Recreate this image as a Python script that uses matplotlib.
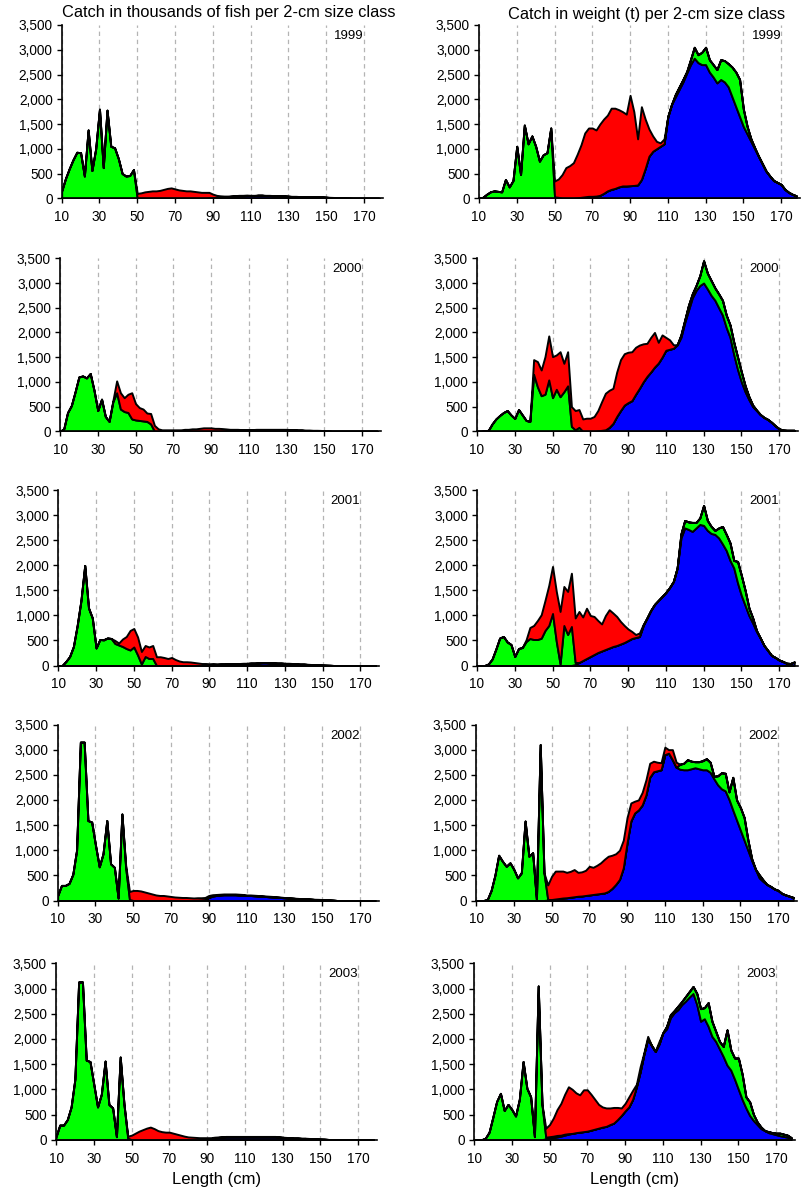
import numpy as np
import matplotlib
matplotlib.use("Agg")
import matplotlib.pyplot as plt
from matplotlib.ticker import FuncFormatter

plt.rcParams['font.family'] = ['Liberation Sans', 'DejaVu Sans']

#=============================
# 2-cm length classes 10..178
#=============================
lengths = np.arange(10, 180, 2)
years = ["1999", "2000", "2001", "2002", "2003"]
Z = [0] * 10

# ---------- catch in numbers (thousands) ----------
# 1999
cnt99_B = (Z + Z + Z + [0, 0, 0, 0, 0, 0, 0, 0, 0, 10]
           + [15, 20, 25, 30, 35, 40, 45, 50, 50, 55]
           + [55, 55, 60, 60, 55, 55, 50, 50, 45, 45]
           + [40, 35, 35, 30, 30, 30, 30, 30, 25, 25]
           + [20, 15, 12, 10, 8, 5, 3, 0, 0, 0] + [0, 0, 0, 0, 0])
cnt99_G = ([150, 400, 600, 780, 930, 920, 450, 1380, 560, 1000]
           + [1800, 620, 1780, 1050, 1020, 800, 500, 450, 460, 580]
           + Z + Z + Z + Z + Z + Z + [0, 0, 0, 0, 0])
cnt99_R = (Z + Z + [100, 110, 130, 140, 150, 150, 160, 180, 200, 210]
           + [190, 170, 160, 150, 150, 140, 130, 120, 120, 110]
           + [70, 40, 25, 15, 10, 10, 10, 10, 10, 10]
           + [5] * 10 + [5] * 10
           + [5, 5, 5, 5, 0, 0, 0, 0, 0, 0] + [0, 0, 0, 0, 0])
# 2000
cnt00_B = (Z + Z + Z + Z + [0, 0, 0, 5, 8, 10, 15, 20, 20, 25]
           + [25, 25, 30, 30, 30, 30, 30, 30, 30, 30]
           + [30, 25, 25, 20, 20, 15, 15, 10, 10, 8]
           + [5, 3, 0, 0, 0, 0, 0, 0, 0, 0] + [0, 0, 0, 0, 0])
cnt00_G = ([0, 50, 380, 520, 800, 1100, 1120, 1080, 1170, 830]
           + [420, 650, 300, 200, 600, 780, 450, 400, 380, 250]
           + [230, 220, 210, 200, 150, 0, 0, 0, 0, 0]
           + Z + Z + Z + Z + Z + [0, 0, 0, 0, 0])
cnt00_R = (Z + [0, 0, 0, 0, 20, 240, 330, 280, 370, 530]
           + [330, 260, 240, 170, 210, 120, 50, 30, 30, 30]
           + [30, 30, 30, 40, 40, 50, 50, 60, 70, 70]
           + [70, 60, 60, 50, 40, 30, 25, 20, 15, 10]
           + [10] * 10 + [10] * 10
           + [5, 5, 0, 0, 0, 0, 0, 0, 0, 0] + [0, 0, 0, 0, 0])
# 2001
cnt01_B = (Z + Z + Z + [0, 0, 0, 0, 0, 0, 0, 0, 0, 10]
           + [15, 20, 20, 25, 25, 30, 30, 35, 35, 40]
           + [40, 45, 45, 50, 55, 55, 50, 50, 45, 45]
           + [40, 40, 35, 30, 25, 25, 20, 15, 12, 10]
           + [8, 5, 3, 0, 0, 0, 0, 0, 0, 0] + [0, 0, 0, 0, 0])
cnt01_G = ([0, 0, 80, 180, 380, 800, 1300, 2000, 1150, 950]
           + [350, 520, 510, 550, 540, 440, 410, 380, 340, 310]
           + [370, 210, 30, 180, 140, 140, 0, 0, 0, 0]
           + Z + Z + Z + Z + Z + [0, 0, 0, 0, 0])
cnt01_R = (Z + [0, 0, 10, 0, 0, 60, 40, 150, 240, 390]
           + [370, 360, 250, 220, 230, 260, 175, 175, 160, 140]
           + [160, 120, 90, 75, 75, 70, 60, 50, 40, 30]
           + [20, 20, 15, 10, 10, 10, 5, 5, 5, 5]
           + [5] * 10 + [5] * 10 + Z + [0, 0, 0, 0, 0])
# 2002
cnt02_B = (Z + Z + Z + [0, 0, 0, 0, 0, 0, 0, 5, 10, 20]
           + [60, 90, 100, 110, 115, 115, 115, 115, 110, 105]
           + [100, 100, 95, 90, 85, 80, 75, 70, 65, 60]
           + [55, 50, 45, 40, 35, 30, 30, 25, 20, 18]
           + [15, 10, 8, 5, 0, 0, 0, 0, 0, 0] + [0, 0, 0, 0, 0])
cnt02_G = ([100, 300, 300, 340, 520, 1000, 3150, 3150, 1590, 1560]
           + [1100, 670, 930, 1590, 730, 660, 50, 1720, 650, 20]
           + Z + Z + Z + Z + Z + Z + [0, 0, 0, 0, 0])
cnt02_R = (Z + [0, 0, 0, 0, 0, 0, 0, 0, 50, 160]
           + [200, 200, 190, 170, 150, 130, 110, 100, 100, 90]
           + [80, 70, 65, 60, 60, 55, 50, 50, 45, 40]
           + [40, 25, 20, 15, 15, 15, 15, 15, 15, 15]
           + [10, 10, 10, 10, 10, 10, 10, 10, 8, 8]
           + [5] * 10 + [5, 5, 5, 0, 0, 0, 0, 0, 0, 0] + [0, 0, 0, 0, 0])
# 2003
cnt03_B = (Z + Z + Z + [0, 0, 0, 0, 0, 0, 0, 0, 0, 5]
           + [10, 20, 35, 45, 50, 55, 55, 55, 55, 55]
           + [55, 55, 55, 55, 55, 55, 55, 55, 55, 50]
           + [45, 40, 35, 30, 30, 25, 25, 20, 15, 12]
           + [10, 8, 5, 3, 0, 0, 0, 0, 0, 0] + [0, 0, 0, 0, 0])
cnt03_G = ([60, 290, 290, 400, 650, 1200, 3130, 3130, 1580, 1550]
           + [1100, 650, 900, 1560, 700, 630, 60, 1640, 700, 30]
           + Z + Z + Z + Z + Z + Z + [0, 0, 0, 0, 0])
cnt03_R = (Z + [0, 0, 0, 0, 0, 0, 0, 0, 0, 40]
           + [90, 130, 170, 200, 230, 250, 220, 180, 160, 150]
           + [150, 130, 110, 90, 70, 55, 50, 45, 40, 35]
           + [30, 20, 15, 10, 10, 10, 10, 10, 10, 10]
           + [10] * 10 + [5] * 10
           + [5, 5, 0, 0, 0, 0, 0, 0, 0, 0] + [0, 0, 0, 0, 0])

# ---------- catch in weight (t) ----------
# 1999
wt99_B = (Z + Z + [0, 0, 0, 0, 0, 0, 10, 20, 30, 40]
          + [40, 45, 60, 100, 150, 180, 200, 230, 250, 250]
          + [255, 260, 270, 380, 600, 850, 950, 1000, 1050, 1100]
          + [1650, 1900, 2050, 2200, 2350, 2530, 2700, 2830, 2740, 2700]
          + [2700, 2550, 2450, 2330, 2400, 2350, 2250, 2050, 1850, 1650]
          + [1450, 1300, 1150, 1000, 850, 700, 550, 450, 360, 320]
          + [280, 180, 120, 80, 50])
wt99_G = ([0, 20, 80, 130, 150, 140, 130, 380, 230, 360]
          + [1050, 480, 1480, 1100, 1260, 1050, 750, 880, 920, 1420]
          + [30, 20, 0, 0, 0, 0, 0, 0, 0, 0] + Z + Z
          + [0, 0, 50, 50, 50, 30, 100, 220, 160, 250]
          + [350, 250, 250, 270, 400, 430, 470, 600, 700, 750]
          + [350, 150, 50, 20, 0, 0, 0, 0, 0, 0] + [0, 0, 0, 0, 0])
wt99_R = (Z + Z + [320, 370, 480, 620, 660, 720, 880, 1060, 1290, 1380]
          + [1380, 1335, 1440, 1500, 1530, 1640, 1620, 1560, 1500, 1450]
          + [1825, 1490, 930, 1470, 1000, 550, 310, 150, 70, 100]
          + Z + Z + Z + [0, 0, 0, 0, 0])
# 2000
wt00_B = (Z + Z + Z + [0, 0, 10, 20, 30, 80, 160, 300, 420, 530]
          + [580, 620, 750, 870, 1000, 1110, 1200, 1300, 1380, 1500]
          + [1640, 1660, 1680, 1750, 1900, 2200, 2450, 2700, 2850, 2950]
          + [3000, 2880, 2750, 2650, 2500, 2350, 2100, 1900, 1550, 1250]
          + [1000, 800, 640, 500, 420, 340, 280, 240, 180, 110]
          + [50, 25, 20, 20, 20])
wt00_G = ([0, 0, 10, 20, 150, 250, 320, 380, 420, 330]
          + [260, 440, 330, 220, 200, 1150, 900, 720, 750, 1040]
          + [680, 850, 700, 800, 920, 100, 30, 80, 0, 0] + Z + Z
          + [0, 0, 0, 0, 50, 50, 100, 80, 100, 200]
          + [450, 320, 300, 250, 280, 300, 250, 250, 250, 250]
          + [200, 120, 60, 30, 10, 0, 0, 0, 0, 0] + [0, 0, 0, 0, 0])
wt00_R = (Z + [0, 0, 0, 0, 0, 300, 510, 520, 760, 890]
          + [830, 695, 910, 575, 690, 400, 390, 360, 250, 265]
          + [265, 300, 410, 580, 740, 750, 710, 900, 1030, 1040]
          + [1020, 990, 950, 875, 770, 670, 700, 700, 420, 450]
          + [260, 190, 70, 0, 0, 0, 0, 0, 0, 0]
          + Z + Z + [0, 0, 0, 0, 0])
# 2001
wt01_B = (Z + Z + [0, 0, 0, 0, 0, 0, 20, 60, 100, 140]
          + [180, 220, 260, 290, 320, 350, 380, 400, 430, 460]
          + [500, 540, 560, 580, 800, 950, 1100, 1220, 1300, 1380]
          + [1460, 1560, 1680, 1950, 2550, 2750, 2720, 2680, 2750, 2820]
          + [2800, 2700, 2640, 2620, 2550, 2430, 2300, 2100, 1950, 1650]
          + [1400, 1200, 1000, 850, 680, 550, 400, 300, 200, 160]
          + [110, 80, 45, 40, 70])
wt01_G = ([0, 0, 0, 30, 130, 330, 550, 580, 470, 420]
          + [180, 340, 360, 480, 540, 520, 520, 545, 700, 800]
          + [1040, 480, 30, 800, 620, 780, 40, 0, 0, 0] + Z + Z
          + [0, 0, 0, 0, 80, 150, 150, 180, 110, 130]
          + [400, 200, 140, 80, 200, 350, 320, 350, 150, 430]
          + [400, 300, 150, 100, 20, 0, 0, 0, 0, 0] + [0, 0, 0, 0, 0])
wt01_R = (Z + [0, 0, 0, 35, 220, 280, 380, 470, 600, 800]
          + [940, 1000, 1050, 780, 860, 1065, 890, 1020, 870, 1005]
          + [820, 760, 640, 540, 680, 765, 670, 580, 450, 340]
          + [230, 140, 60, 70, 20, 0, 0, 0, 0, 0]
          + Z + Z + Z + [0, 0, 0, 0, 0])
# 2002
wt02_B = (Z + [0, 0, 0, 0, 0, 0, 0, 0, 0, 10]
          + [20, 30, 40, 50, 55, 65, 75, 85, 90, 100]
          + [110, 120, 130, 140, 150, 180, 240, 320, 420, 650]
          + [1150, 1580, 1740, 1800, 1900, 2100, 2450, 2560, 2580, 2600]
          + [2900, 2930, 2800, 2650, 2610, 2600, 2600, 2620, 2640, 2620]
          + [2600, 2600, 2550, 2420, 2300, 2220, 2180, 2010, 1800, 1600]
          + [1400, 1200, 1000, 800, 620, 450, 380, 320, 280, 230]
          + [200, 140, 110, 85, 60])
wt02_G = ([0, 0, 0, 20, 200, 500, 900, 780, 680, 750]
          + [620, 450, 550, 1580, 880, 950, 20, 3100, 550, 10]
          + Z + Z + Z
          + [0, 0, 0, 0, 100, 130, 200, 150, 120, 140]
          + [180, 220, 200, 50, 180, 320, 350, 150, 650, 400]
          + [450, 450, 200, 30, 0, 60, 30, 0, 0, 0] + [0, 0, 0, 0, 0])
wt02_R = (Z + [0, 0, 0, 0, 0, 0, 0, 0, 0, 290]
          + [460, 555, 545, 535, 505, 515, 540, 475, 480, 500]
          + [570, 540, 570, 610, 670, 700, 660, 610, 580, 550]
          + [500, 360, 235, 200, 250, 300, 280, 210, 170, 140]
          + [150, 70, 200, 100, 0, 0, 0, 0, 0, 0]
          + Z + Z + [0, 0, 0, 0, 0])
# 2003
wt03_B = (Z + [0, 0, 0, 0, 0, 0, 0, 0, 0, 20]
          + [30, 40, 55, 70, 90, 110, 125, 140, 150, 160]
          + [170, 190, 210, 230, 250, 265, 300, 330, 400, 480]
          + [570, 650, 800, 1050, 1350, 1700, 2000, 1870, 1750, 1900]
          + [2120, 2200, 2420, 2520, 2580, 2680, 2750, 2830, 2900, 2680]
          + [2350, 2400, 2250, 2050, 1950, 1800, 1650, 1480, 1380, 1200]
          + [1000, 800, 630, 480, 380, 300, 220, 180, 140, 120]
          + [100, 80, 65, 50, 35])
wt03_G = ([0, 0, 0, 30, 150, 450, 760, 920, 580, 700]
          + [600, 470, 800, 1550, 1020, 850, 60, 3050, 700, 30]
          + [30, 30, 30, 20, 20, 10, 0, 0, 0, 0] + Z + Z
          + [0, 50, 60, 40, 70, 60, 90, 110, 140, 220]
          + [250, 220, 470, 300, 200, 150, 200, 700, 400, 420]
          + [620, 500, 220, 270, 120, 50, 30, 0, 20, 20]
          + [30, 50, 45, 40, 5])
wt03_R = (Z + [0, 0, 0, 0, 0, 0, 0, 0, 0, 180]
          + [240, 360, 515, 630, 790, 930, 875, 790, 740, 830]
          + [820, 710, 590, 470, 400, 365, 330, 310, 240, 150]
          + [150, 200, 180, 50, 100, 30, 50, 0, 10, 50]
          + Z + Z + Z + [0, 0, 0, 0, 0])

count_data = [(cnt99_B, cnt99_G, cnt99_R), (cnt00_B, cnt00_G, cnt00_R),
              (cnt01_B, cnt01_G, cnt01_R), (cnt02_B, cnt02_G, cnt02_R),
              (cnt03_B, cnt03_G, cnt03_R)]
weight_data = [(wt99_B, wt99_G, wt99_R), (wt00_B, wt00_G, wt00_R),
               (wt01_B, wt01_G, wt01_R), (wt02_B, wt02_G, wt02_R),
               (wt03_B, wt03_G, wt03_R)]

colores = ['#0000FF', '#00FF00', '#FF0000']

#=============================
# Figura
#=============================
W, H = 801, 1193
fig = plt.figure(figsize=(W / 100, H / 100), dpi=100)

tops = [25, 258.3, 490.4, 724.5, 963.3]
bots = [198.3, 431.3, 665.5, 900.5, 1139.7]
left_x0 = [61.7, 60, 58.3, 57.7, 56]
right_x0 = [479, 477, 477, 476, 474]
ancho = 321

fmt = FuncFormatter(lambda v, p: f"{int(v):,}")


def panel(x0, top, bot, series, year, last):
    ax = fig.add_axes([x0 / W, 1 - bot / H, ancho / W, (bot - top) / H])
    ax.stackplot(lengths, *series, colors=colores, edgecolor='black',
                 linewidth=1.4)
    ax.set_xlim(10, 180)
    ax.set_ylim(0, 3500)
    ax.set_xticks(range(10, 171, 20))
    ax.set_yticks(range(0, 3501, 500))
    ax.yaxis.set_major_formatter(fmt)
    ax.xaxis.grid(True, linestyle=(0, (3.5, 3)), color='#b4b4b4', linewidth=0.9)
    ax.set_axisbelow(True)
    for s in ['top', 'right']:
        ax.spines[s].set_visible(False)
    for s in ['left', 'bottom']:
        ax.spines[s].set_linewidth(1.2)
    ax.tick_params(direction='out', length=3.5, width=1, labelsize=9.8, pad=3)
    ax.tick_params(axis='x', pad=5)
    ax.text(170, 3280, year, ha='right', va='center', fontsize=9.5)
    if last:
        ax.set_xlabel("Length (cm)", fontsize=12, labelpad=5)
    return ax


for i in range(5):
    panel(left_x0[i], tops[i], bots[i], count_data[i], years[i], i == 4)
    panel(right_x0[i], tops[i], bots[i], weight_data[i], years[i], i == 4)

fig.text(229 / W, 1 - 13 / H, "Catch in thousands of fish per 2-cm size class",
         ha='center', va='center', fontsize=11.8)
fig.text(647 / W, 1 - 14 / H, "Catch in weight (t) per 2-cm size class",
         ha='center', va='center', fontsize=11.8)

fig.savefig("out.png", dpi=100)
